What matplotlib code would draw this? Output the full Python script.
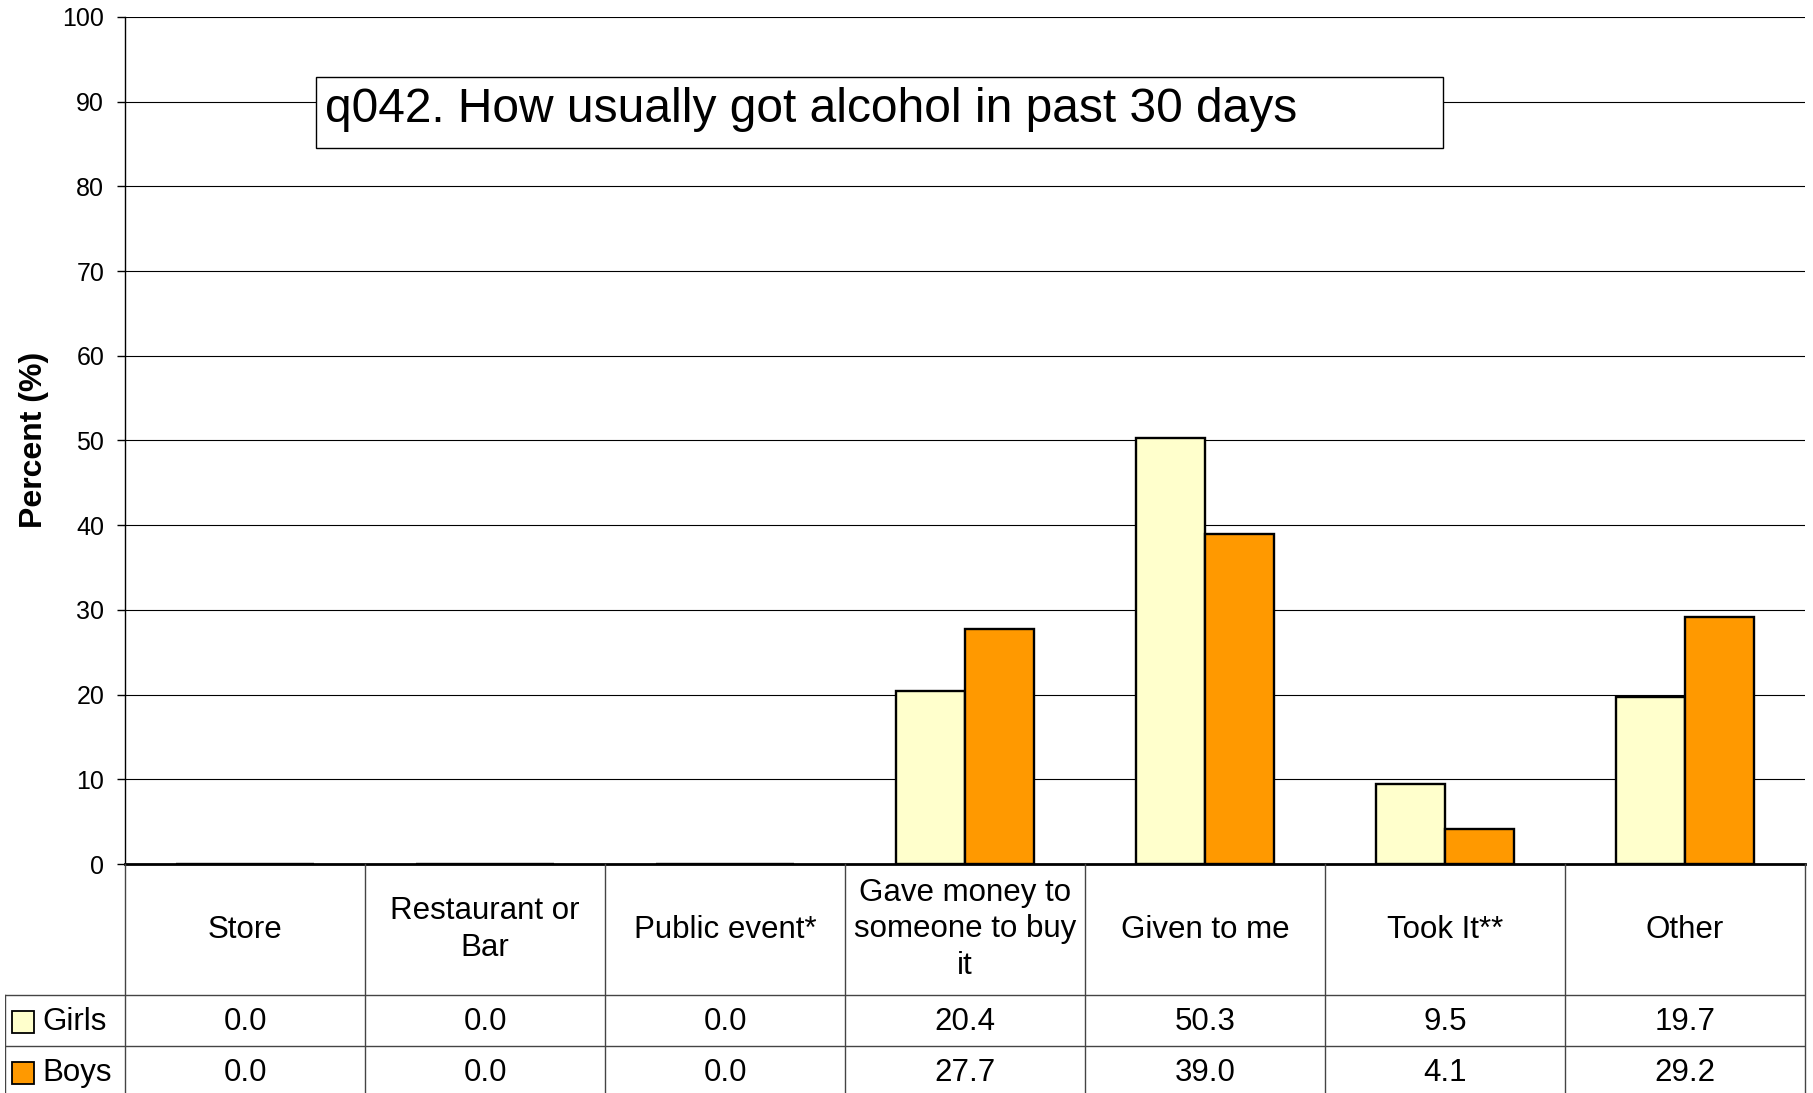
import matplotlib
matplotlib.use("Agg")
import matplotlib.pyplot as plt
from matplotlib.patches import Rectangle
import numpy as np

categories = ["Store", "Restaurant or\nBar", "Public event*", "Gave money to\nsomeone to buy\nit",
              "Given to me", "Took It**", "Other"]
girls = [0.0, 0.0, 0.0, 20.4, 50.3, 9.5, 19.7]
boys = [0.0, 0.0, 0.0, 27.7, 39.0, 4.1, 29.2]
series_names = ["Girls", "Boys"]
yticks = list(range(0, 101, 10))
title_text = "q042. How usually got alcohol in past 30 days"

plt.rcParams['font.family'] = ['Liberation Sans', 'DejaVu Sans']

W, H = 1813, 1093
fig = plt.figure(figsize=(W / 100, H / 100), dpi=100)

def fx(px):
    return px / W

def fy(py):
    return 1 - py / H

colors = ["#FFFFCC", "#FF9900"]
L, R, T, B = 125, 1805, 17, 864
ax = fig.add_axes([fx(L), fy(B), fx(R - L), (B - T) / H])
x = np.arange(len(categories))
bw = 0.2875
ax.bar(x - bw / 2, girls, bw, color=colors[0], edgecolor="black", linewidth=1.7, zorder=3)
ax.bar(x + bw / 2, boys, bw, color=colors[1], edgecolor="black", linewidth=1.7, zorder=3)
ax.set_xlim(-0.5, len(categories) - 0.5)
ax.set_ylim(0, 100)
ax.set_yticks(yticks)
ax.set_yticklabels([str(v) for v in yticks], fontsize=18)
ax.tick_params(axis='y', length=6, width=1, direction='out', pad=9)
ax.set_xticks([])
ax.yaxis.grid(True, color="black", linewidth=0.8, zorder=0)
ax.set_axisbelow(True)
for s in ["top", "right"]:
    ax.spines[s].set_visible(False)
ax.spines["left"].set_linewidth(1.0)
ax.spines["bottom"].set_linewidth(2.0)
ax.spines["bottom"].set_zorder(4)
fig.text(fx(34), fy(440), "Percent (%)", rotation=90, fontsize=23, fontweight="bold",
         ha="center", va="center")

# title box
fig.patches.append(Rectangle((fx(316), fy(148)), fx(1443 - 316), (148 - 77) / H,
                             transform=fig.transFigure, facecolor="white", edgecolor="black",
                             linewidth=1.0, zorder=5))
fig.text(fx(325), fy(109), title_text, fontsize=34.5, ha="left", va="center", zorder=6)

# data table
tax = fig.add_axes([fx(5), 0, fx(R - 5), (H - B) / H])
tax.set_xlim(-1.0, len(categories) - 0.5)
tax.set_ylim(H - B, 0)
tax.axis("off")
lc = "#444444"
hdr = 131
row = 51
for k in range(len(categories) + 1):
    tax.plot([k - 0.5, k - 0.5], [0, H - B], color=lc, lw=1.0, clip_on=False)
tax.plot([-1.0, -1.0], [hdr, H - B], color=lc, lw=1.0)
for yy in [hdr, hdr + row]:
    tax.plot([-1.0, len(categories) - 0.5], [yy, yy], color=lc, lw=1.0)
for i, c in enumerate(categories):
    tax.text(i, hdr / 2, c, ha="center", va="center", fontsize=22.5, linespacing=1.3)
for r, (name, vals) in enumerate(zip(series_names, [girls, boys])):
    cy = hdr + row * r + 27
    for i, v in enumerate(vals):
        tax.text(i, cy, f"{v:.1f}", ha="center", va="center", fontsize=22.5)
    tax.add_patch(Rectangle((-1.0 + 7 / 240, cy - 11), 22 / 240, 22, facecolor=colors[r],
                            edgecolor="black", linewidth=1.3))
    tax.text(-1.0 + 37 / 240, cy, name, ha="left", va="center", fontsize=22.5)

fig.savefig("out.png", dpi=100)
